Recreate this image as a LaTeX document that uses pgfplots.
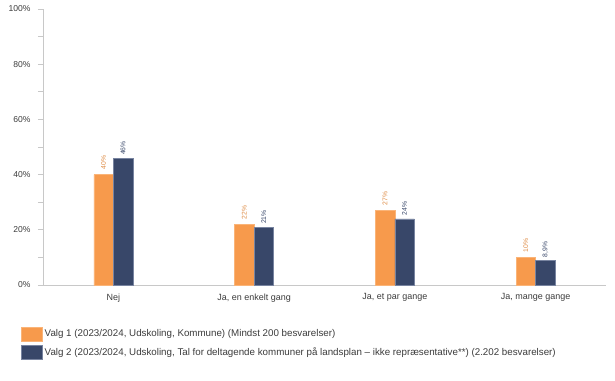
\documentclass[border=0pt]{standalone}
\usepackage{fontspec}
\setmainfont{Liberation Sans}
\usepackage{pgfplots}
\pgfplotsset{compat=1.18}
\definecolor{orng}{RGB}{247,154,76}
\definecolor{orngE}{RGB}{250,180,120}
\definecolor{navy}{RGB}{56,71,105}
\definecolor{navyE}{RGB}{120,132,160}
\definecolor{axgray}{RGB}{200,200,200}
\definecolor{txt}{RGB}{60,60,60}
\begin{document}
\begin{tikzpicture}
\path[use as bounding box] (-43bp,-96bp) rectangle (572bp,285bp);
\begin{axis}[
  scale only axis,
  width=563bp, height=276bp,
  xmin=-0.5, xmax=3.5,
  ymin=0, ymax=100,
  xtick={0,1,2,3},
  xticklabels={Nej, {Ja, en enkelt gang}, {Ja, et par gange}, {Ja, mange gange}},
  ytick={0,20,40,60,80,100},
  minor ytick={10,30,50,70,90},
  yticklabel={\pgfmathprintnumber{\tick}\%},
  /pgf/number format/assume math mode=true,
  tick label style={font=\fontsize{9}{10}\selectfont, text=txt},
  axis x line*=bottom,
  axis y line*=left,
  tick align=outside,
  axis line style={axgray, line width=0.8pt},
  x axis line style={-}, y axis line style={-},
  major x tick style={draw=none},
  major y tick style={axgray, line width=0.8pt},
  minor y tick style={axgray, line width=0.8pt},
  tickwidth=5bp, subtickwidth=5bp,
  y tick label style={xshift=-4bp, font=\fontsize{8.6}{10}\selectfont},
  x tick label style={yshift=0bp},
  ybar, bar width=19.5bp,
  point meta=explicit symbolic,
  nodes near coords={\pgfplotspointmeta},
  nodes near coords style={rotate=90, anchor=west, font=\fontsize{6.8}{7}\selectfont, inner sep=0pt},
  clip=false,
  legend style={at={(axis description cs:-0.039,-0.150)}, anchor=north west, draw=none,
    font=\fontsize{9.8}{10}\selectfont, text=txt, inner sep=0pt, row sep=3.5bp,
    /tikz/every even column/.append style={column sep=2bp}},
  legend cell align=left,
  legend image code/.code={\fill[#1] (0bp,-7bp) rectangle (21bp,7bp);},
]
\addplot[fill=orng, draw=orngE, line width=0.5pt, bar shift=-9.75bp,
  nodes near coords style={text=orng!90!black, xshift=5bp}] coordinates {
  (0,40) [40\%]
  (1,22) [22\%]
  (2,27) [27\%]
  (3,10) [10\%]
};
\addplot[fill=navy, draw=navyE, line width=0.5pt, bar shift=9.75bp,
  nodes near coords style={text=navy, xshift=3bp}] coordinates {
  (0,46) [46\%]
  (1,21) [21\%]
  (2,24) [24\%]
  (3,8.9) [8,9\%]
};
\legend{{Valg 1 (2023/2024, Udskoling, Kommune) (Mindst 200 besvarelser)},
  {Valg 2 (2023/2024, Udskoling, Tal for deltagende kommuner på landsplan – ikke repræsentative**) (2.202 besvarelser)}}
\end{axis}
\end{tikzpicture}
\end{document}
